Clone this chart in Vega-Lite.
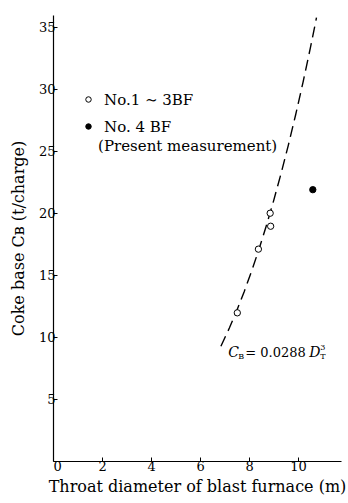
{
  "$schema": "https://vega.github.io/schema/vega-lite/v6.json",
  "width": 288,
  "height": 446,
  "autosize": {"type": "none"},
  "padding": {"left": 53, "top": 15, "right": 7, "bottom": 42},
  "background": "white",
  "config": {
    "view": {"stroke": null},
    "font": "DejaVu Serif",
    "axis": {
      "domainColor": "black",
      "domainWidth": 1.2,
      "tickColor": "black",
      "tickSize": -4,
      "grid": false,
      "labelFont": "DejaVu Serif",
      "labelFontSize": 13,
      "labelColor": "black",
      "titleFont": "DejaVu Serif",
      "titleFontSize": 16,
      "titleFontWeight": "normal",
      "titleColor": "black"
    }
  },
  "datasets": {
    "points": [
      {"series": "No.1 ∼ 3BF", "d": 7.52, "c": 11.96},
      {"series": "No.1 ∼ 3BF", "d": 8.38, "c": 17.1},
      {"series": "No.1 ∼ 3BF", "d": 8.88, "c": 18.95},
      {"series": "No.1 ∼ 3BF", "d": 8.86, "c": 20.0},
      {"series": "No. 4 BF", "d": 10.6, "c": 21.9}
    ],
    "curve": [
      {"d": 6.85, "c": 9.26},
      {"d": 7.2, "c": 10.75},
      {"d": 7.5, "c": 12.15},
      {"d": 7.8, "c": 13.67},
      {"d": 8.1, "c": 15.31},
      {"d": 8.4, "c": 17.07},
      {"d": 8.7, "c": 18.97},
      {"d": 9.0, "c": 21.0},
      {"d": 9.3, "c": 23.17},
      {"d": 9.6, "c": 25.48},
      {"d": 9.9, "c": 27.95},
      {"d": 10.2, "c": 30.56},
      {"d": 10.5, "c": 33.34},
      {"d": 10.75, "c": 35.78}
    ],
    "note": [{"d": 1.84, "c": 25.4, "label": "(Present measurement)"}],
    "eq": [{"d": 7.15, "c": 8.7}]
  },
  "layer": [
    {
      "data": {"name": "curve"},
      "mark": {"type": "line", "color": "black", "strokeWidth": 1.4, "strokeDash": [11, 6]},
      "encoding": {
        "x": {
          "field": "d", "type": "quantitative",
          "scale": {"domain": [0, 11.75], "nice": false},
          "axis": {"values": [0, 2, 4, 6, 8, 10], "title": "Throat diameter of blast furnace (m)", "labelPadding": 3, "titlePadding": 5}
        },
        "y": {
          "field": "c", "type": "quantitative",
          "scale": {"domain": [0, 36], "nice": false},
          "axis": {"values": [5, 10, 15, 20, 25, 30, 35], "title": "Coke base  Cʙ  (t/charge)", "labelPadding": 2, "titlePadding": 12}
        }
      }
    },
    {
      "data": {"name": "points"},
      "mark": {"type": "point", "shape": "circle", "stroke": "black", "strokeWidth": 1, "size": 40, "opacity": 1, "filled": false},
      "encoding": {
        "x": {"field": "d", "type": "quantitative"},
        "y": {"field": "c", "type": "quantitative"},
        "fill": {
          "field": "series", "type": "nominal",
          "scale": {"domain": ["No.1 ∼ 3BF", "No. 4 BF"], "range": ["white", "black"]},
          "legend": {
            "orient": "none", "legendX": 28, "legendY": 77, "title": null,
            "labelFont": "DejaVu Serif", "labelFontSize": 15, "labelColor": "black",
            "symbolSize": 30, "symbolStrokeColor": "black", "symbolStrokeWidth": 1,
            "rowPadding": 11, "labelOffset": 8
          }
        }
      }
    },
    {
      "data": {"name": "note"},
      "mark": {"type": "text", "align": "left", "baseline": "middle", "fontSize": 15, "font": "DejaVu Serif", "color": "black"},
      "encoding": {
        "x": {"field": "d", "type": "quantitative"},
        "y": {"field": "c", "type": "quantitative"},
        "text": {"field": "label"}
      }
    },
    {
      "data": {"name": "eq"},
      "mark": {"type": "text", "align": "left", "baseline": "middle", "fontSize": 14, "fontStyle": "italic", "font": "DejaVu Serif", "color": "black", "text": "C"},
      "encoding": {"x": {"field": "d", "type": "quantitative"}, "y": {"field": "c", "type": "quantitative"}}
    },
    {
      "data": {"name": "eq"},
      "mark": {"type": "text", "align": "left", "baseline": "middle", "fontSize": 8, "font": "DejaVu Serif", "color": "black", "text": "B", "dx": 10, "dy": 4},
      "encoding": {"x": {"field": "d", "type": "quantitative"}, "y": {"field": "c", "type": "quantitative"}}
    },
    {
      "data": {"name": "eq"},
      "mark": {"type": "text", "align": "left", "baseline": "middle", "fontSize": 13, "font": "DejaVu Serif", "color": "black", "text": "= 0.0288", "dx": 17},
      "encoding": {"x": {"field": "d", "type": "quantitative"}, "y": {"field": "c", "type": "quantitative"}}
    },
    {
      "data": {"name": "eq"},
      "mark": {"type": "text", "align": "left", "baseline": "middle", "fontSize": 14, "fontStyle": "italic", "font": "DejaVu Serif", "color": "black", "text": "D", "dx": 81},
      "encoding": {"x": {"field": "d", "type": "quantitative"}, "y": {"field": "c", "type": "quantitative"}}
    },
    {
      "data": {"name": "eq"},
      "mark": {"type": "text", "align": "left", "baseline": "middle", "fontSize": 8, "font": "DejaVu Serif", "color": "black", "text": "T", "dx": 92, "dy": 4},
      "encoding": {"x": {"field": "d", "type": "quantitative"}, "y": {"field": "c", "type": "quantitative"}}
    },
    {
      "data": {"name": "eq"},
      "mark": {"type": "text", "align": "left", "baseline": "middle", "fontSize": 8, "font": "DejaVu Serif", "color": "black", "text": "3", "dx": 92, "dy": -5},
      "encoding": {"x": {"field": "d", "type": "quantitative"}, "y": {"field": "c", "type": "quantitative"}}
    }
  ]
}
